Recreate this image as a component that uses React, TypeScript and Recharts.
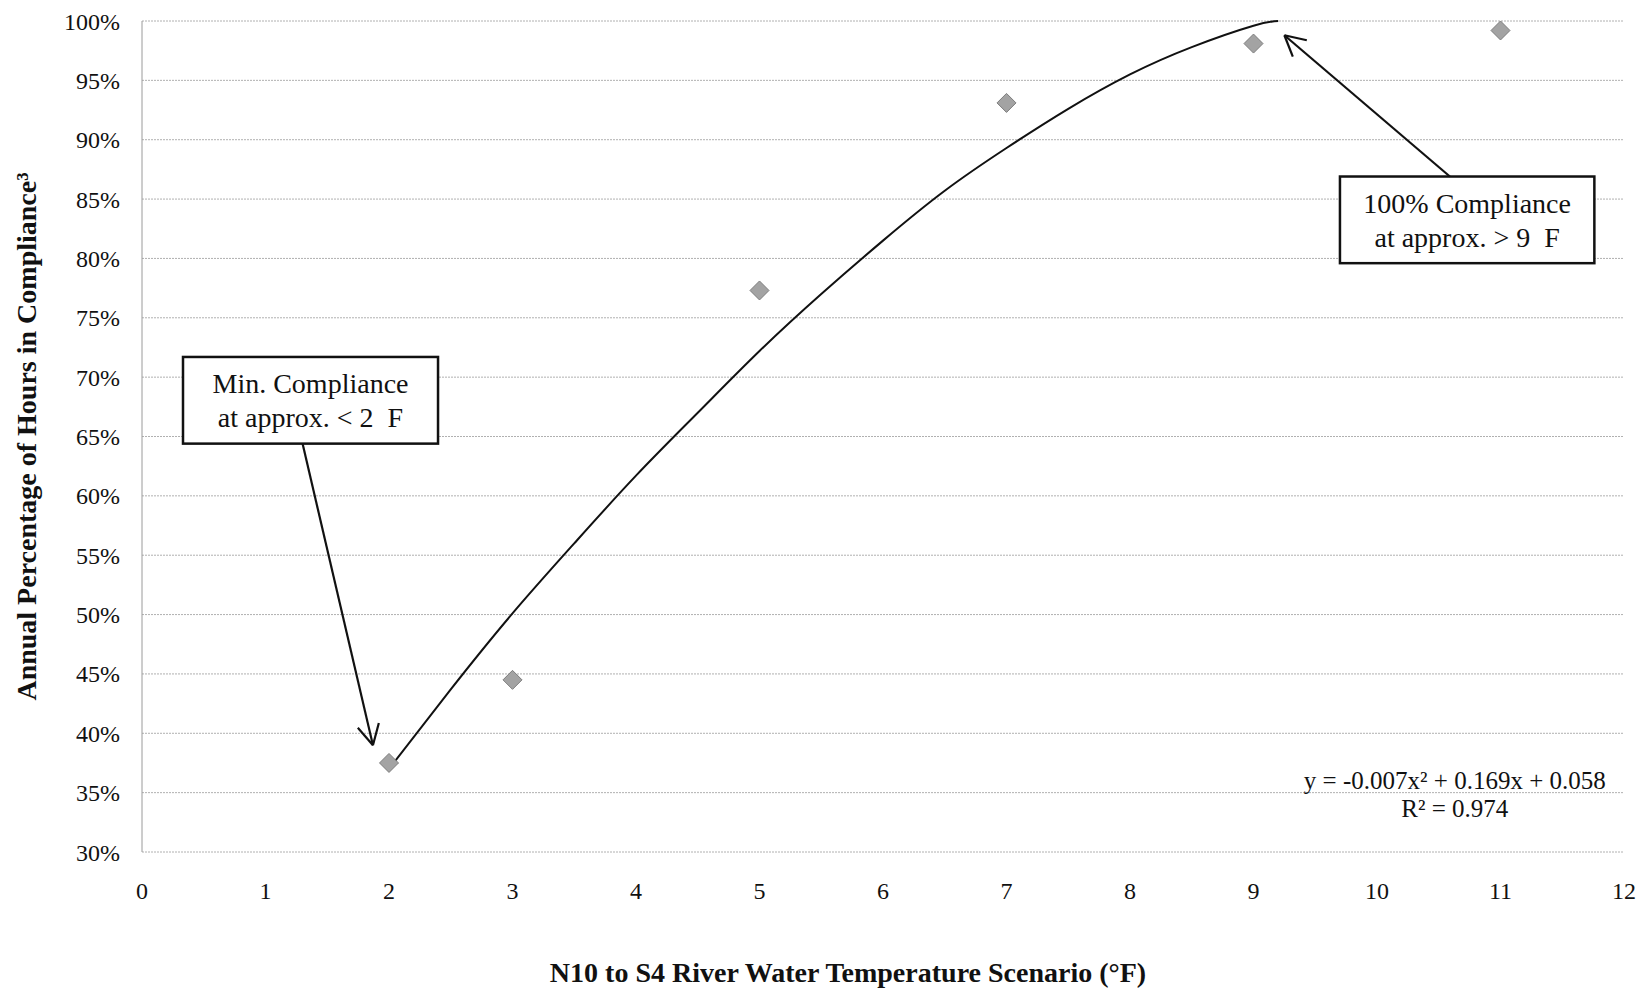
import React from 'react';
import {
  ComposedChart, Line, Scatter, XAxis, YAxis, CartesianGrid,
  ReferenceArea, ReferenceLine, ReferenceDot,
} from 'recharts';

// observed scenario results
const scenarioX = [2, 3, 5, 7, 9, 11];
const compliance = [0.375, 0.445, 0.773, 0.931, 0.981, 0.992];

// polynomial trendline
const trendX = [2, 2.5, 3, 3.5, 4, 4.5, 5, 5.5, 6, 6.5, 7, 7.5, 8, 8.5, 9, 9.2];
const trendY = [0.37, 0.437, 0.501, 0.56, 0.617, 0.67, 0.722, 0.77, 0.815, 0.857, 0.893, 0.926, 0.955, 0.978, 0.996, 1.0];

const xTicks = [0, 1, 2, 3, 4, 5, 6, 7, 8, 9, 10, 11, 12];
const yTicks = [0.3, 0.35, 0.4, 0.45, 0.5, 0.55, 0.6, 0.65, 0.7, 0.75, 0.8, 0.85, 0.9, 0.95, 1.0];

const xTitle = 'N10 to S4 River Water Temperature Scenario (°F)';
const yTitle = 'Annual Percentage of Hours in Compliance³';
const eqLines = ['y = -0.007x² + 0.169x + 0.058', 'R² = 0.974'];

const minNote = ['Min. Compliance', 'at approx. < 2  F'];
const maxNote = ['100% Compliance', 'at approx. > 9  F'];

const points = scenarioX.map((x, i) => ({ x, y: compliance[i] }));
const trend = trendX.map((x, i) => ({ x, y: trendY[i] }));

const FONT = '"Liberation Serif", "Times New Roman", serif';

const Diamond = (p: any) => {
  const { cx, cy } = p;
  const r = 9.5;
  return (
    <polygon
      points={`${cx},${cy - r} ${cx + r},${cy} ${cx},${cy + r} ${cx - r},${cy}`}
      fill="#a3a3a3"
      stroke="#7d7d7d"
      strokeWidth={1}
    />
  );
};

const noteBox = (lines: string[]) => (p: any) => {
  const { x, y, width, height } = p;
  const cx = x + width / 2;
  const ts = { whiteSpace: 'pre' as const };
  return (
    <g>
      <rect x={x} y={y} width={width} height={height} fill="#fff" stroke="#111" strokeWidth={2.5} />
      <text x={cx} y={y + 27} textAnchor="middle" dominantBaseline="central" fontFamily={FONT} fontSize={28} fill="#111" style={ts}>{lines[0]}</text>
      <text x={cx} y={y + 61} textAnchor="middle" dominantBaseline="central" fontFamily={FONT} fontSize={28} fill="#111" style={ts}>{lines[1]}</text>
    </g>
  );
};

const Arrow = (p: any) => {
  const { x1, y1, x2, y2 } = p;
  const ang = Math.atan2(y1 - y2, x1 - x2);
  const len = 23;
  const spread = (28 * Math.PI) / 180;
  const a1 = ang - spread;
  const a2 = ang + spread;
  return (
    <g stroke="#111" strokeWidth={2.2} fill="none">
      <line x1={x1} y1={y1} x2={x2} y2={y2} />
      <line x1={x2} y1={y2} x2={x2 + len * Math.cos(a1)} y2={y2 + len * Math.sin(a1)} />
      <line x1={x2} y1={y2} x2={x2 + len * Math.cos(a2)} y2={y2 + len * Math.sin(a2)} />
    </g>
  );
};

const Equation = (p: any) => {
  const { cx, cy } = p;
  return (
    <g fontFamily={FONT} fontSize={25} fill="#111" textAnchor="middle">
      <text x={cx} y={cy} dominantBaseline="central">{eqLines[0]}</text>
      <text x={cx} y={cy + 28} dominantBaseline="central">{eqLines[1]}</text>
    </g>
  );
};

const pct = (v: number) => `${Math.round(v * 100)}%`;
const tickStyle = { fill: '#111', fontSize: 24, fontFamily: FONT };
const titleStyle = { fontFamily: FONT, fontSize: 28, fontWeight: 'bold', fill: '#111' };

export default function App() {
  return (
    <div style={{ position: 'absolute', left: 0, top: 0, background: '#fff' }}>
      <ComposedChart width={1648} height={989} margin={{ top: 21, right: 24, bottom: 0, left: 0 }}>
        <CartesianGrid horizontal vertical={false} stroke="#b0b0b0" strokeDasharray="2 1" />
        <XAxis
          type="number"
          dataKey="x"
          domain={[0, 12]}
          ticks={xTicks}
          height={137}
          tickLine={false}
          axisLine={false}
          tickSize={0}
          tickMargin={30}
          tick={tickStyle}
          label={{ value: xTitle, position: 'insideBottom', offset: 7, dx: -35, style: titleStyle }}
        />
        <YAxis
          type="number"
          domain={[0.3, 1.0]}
          ticks={yTicks}
          width={142}
          tickFormatter={pct}
          tickLine={false}
          axisLine={{ stroke: '#9a9a9a' }}
          tickSize={0}
          tickMargin={22}
          tick={tickStyle}
          label={{ value: yTitle, angle: -90, position: 'insideLeft', offset: 26, style: { ...titleStyle, textAnchor: 'middle' } }}
        />
        <Line data={trend} dataKey="y" type="natural" stroke="#111" strokeWidth={2} dot={false} isAnimationActive={false} />
        <Scatter data={points} dataKey="y" shape={Diamond} isAnimationActive={false} />
        <ReferenceLine segment={[{ x: 1.3, y: 0.644 }, { x: 1.87, y: 0.39 }]} shape={Arrow} />
        <ReferenceLine segment={[{ x: 10.59, y: 0.869 }, { x: 9.25, y: 0.988 }]} shape={Arrow} />
        <ReferenceArea x1={0.332} x2={2.397} y1={0.644} y2={0.717} shape={noteBox(minNote)} />
        <ReferenceArea x1={9.7} x2={11.76} y1={0.796} y2={0.869} shape={noteBox(maxNote)} />
        <ReferenceDot x={10.63} y={0.36} r={0} shape={Equation} />
      </ComposedChart>
    </div>
  );
}
